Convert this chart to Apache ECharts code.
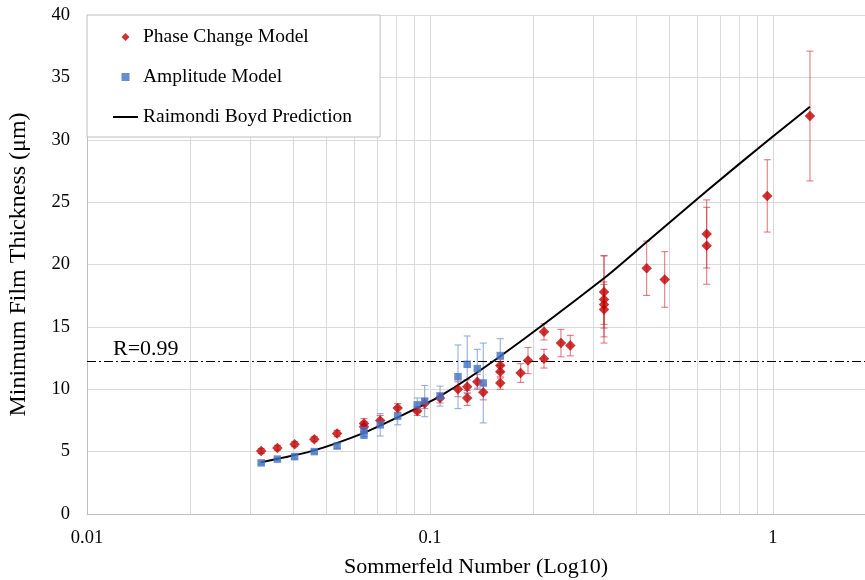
<!DOCTYPE html>
<html><head><meta charset="utf-8">
<script src="https://cdn.jsdelivr.net/npm/echarts@6/dist/echarts.min.js"></script>
<style>html,body{margin:0;padding:0;background:#fff}#c{width:865px;height:580px}</style>
</head><body><div id="c"></div>
<script>
// Phase Change Model: Sommerfeld number, film thickness (µm), error
const phaseX = [0.0322,0.0359,0.0403,0.046,0.0536,0.0642,0.0642,0.0716,0.0805,0.0918,0.0965,0.107,0.1207,0.1284,0.1284,0.1374,0.143,0.1603,0.1603,0.1603,0.1838,0.1931,0.215,0.215,0.2409,0.2565,0.3216,0.3216,0.3216,0.3216,0.4283,0.4834,0.6408,0.6408,0.9625,1.282];
const phaseY = [5.05,5.3,5.6,6.0,6.45,7.25,7.0,7.5,8.5,8.25,8.85,9.3,10.0,10.2,9.3,10.6,9.75,11.9,11.4,10.5,11.3,12.3,14.6,12.45,13.7,13.5,17.8,17.2,16.8,16.4,19.7,18.8,22.45,21.5,25.5,31.9];
const phaseErr = [0.2,0.2,0.2,0.2,0.25,0.4,0.4,0.4,0.35,0.35,0.4,0.4,0.6,0.55,0.6,0.6,0.6,0.5,0.5,0.5,0.75,1.05,0.65,0.75,1.1,0.82,2.9,3.5,1.6,2.2,2.18,2.23,2.73,3.08,2.9,5.2];
// Amplitude Model
const ampX = [0.0322,0.0359,0.0403,0.046,0.0536,0.0642,0.0642,0.0716,0.0805,0.0918,0.0965,0.107,0.1207,0.1284,0.1374,0.143,0.1603];
const ampY = [4.1,4.4,4.6,5.0,5.45,6.7,6.35,7.15,7.85,8.75,9.05,9.45,11.0,12.0,11.65,10.5,12.7];
const ampErr = [0.1,0.1,0.2,0.15,0.2,0.5,0.3,0.9,0.7,0.55,1.25,0.8,2.55,2.27,1.55,3.2,1.35];
// Raimondi Boyd Prediction
const rbX = [0.0322,0.046,0.0642,0.0805,0.107,0.1603,0.3216,0.4283,0.6408,0.9625,1.282];
const rbY = [4.15,5.1,6.5,7.75,9.45,12.65,18.9,21.8,25.9,29.9,32.65];
// reference line
const rValue = 12.25;
const rLabel = 'R=0.99';
// axis ranges / ticks
const xRange = {min:0.01, max:1.855};
const minorTicks = [0.02,0.03,0.04,0.05,0.06,0.07,0.08,0.09,0.2,0.3,0.4,0.5,0.6,0.7,0.8,0.9];
const yTicks = {min:0, max:40, interval:5};

const FONT = 'Liberation Serif';
const zip = (xs, ys, es) => xs.map((x,i)=> es ? [x, ys[i], es[i]] : [x, ys[i]]);

function errRender(color){
  return function(params, api){
    const x = api.value(0), y = api.value(1), e = api.value(2);
    const t = api.coord([x, y+e]), b = api.coord([x, y-e]);
    const w = 3.5;
    const st = {stroke: color, lineWidth: 1.1};
    return {type:'group', children:[
      {type:'line', shape:{x1:t[0],y1:t[1],x2:b[0],y2:b[1]}, style:st},
      {type:'line', shape:{x1:t[0]-w,y1:t[1],x2:t[0]+w,y2:t[1]}, style:st},
      {type:'line', shape:{x1:b[0]-w,y1:b[1],x2:b[0]+w,y2:b[1]}, style:st}
    ]};
  };
}

const chart = echarts.init(document.getElementById('c'), null, {renderer:'canvas'});
chart.setOption({
  animation:false,
  backgroundColor:'#fff',
  textStyle:{fontFamily:FONT},
  grid:{left:87, right:0, top:15, bottom:66, containLabel:false, outerBoundsMode:'none'},
  legend:{
    orient:'vertical', left:87, top:15, selectedMode:false, z:10,
    backgroundColor:'#fff', borderColor:'#bfbfbf', borderWidth:1,
    padding:[11,28,9,26], itemGap:18, itemWidth:25, itemHeight:8,
    symbolKeepAspect:true,
    textStyle:{fontFamily:FONT, fontSize:19.5, color:'#000', lineHeight:22},
    data:[
      {name:'Phase Change Model', icon:'path://M5,0L10,5L5,10L0,5Z'},
      {name:'Amplitude Model', icon:'path://M0,0L10,0L10,10L0,10Z'},
      {name:'Raimondi Boyd Prediction', icon:'path://M0,0L100,0L100,8L0,8Z'}
    ]
  },
  xAxis:{
    type:'log', logBase:10, min:xRange.min, max:xRange.max,
    name:'Sommerfeld Number (Log10)', nameLocation:'middle', nameGap:42,
    nameTextStyle:{fontFamily:FONT, fontSize:22, color:'#000'},
    axisLine:{show:true, lineStyle:{color:'#bfbfbf', width:1}},
    axisTick:{show:false},
    axisLabel:{fontFamily:FONT, fontSize:18.5, color:'#000', margin:15,
      formatter:function(v){ const l=Math.log10(v); return Math.abs(l-Math.round(l))<1e-6 ? String(+v.toPrecision(3)) : ''; }},
    splitLine:{show:true, lineStyle:{color:'#d9d9d9', width:1}}
  },
  yAxis:{
    type:'value', min:yTicks.min, max:yTicks.max, interval:yTicks.interval,
    name:'Minimum Film Thickness (μm)', nameLocation:'middle', nameGap:56,
    nameTextStyle:{fontFamily:FONT, fontSize:24, color:'#000'},
    axisLine:{show:true, lineStyle:{color:'#bfbfbf', width:1}},
    axisTick:{show:false},
    axisLabel:{fontFamily:FONT, fontSize:18.5, color:'#000', margin:17},
    splitLine:{show:true, lineStyle:{color:'#d9d9d9', width:1}}
  },
  series:[
    {
      name:'minor', type:'line', data:[], silent:true, z:0,
      markLine:{silent:true, symbol:'none', animation:false, z:0,
        label:{show:false},
        lineStyle:{color:'#d9d9d9', width:1, type:'solid'},
        data: minorTicks.map(v=>({xAxis:v}))}
    },
    {
      name:'phaseErr', type:'custom', renderItem:errRender('rgba(200,40,50,0.6)'),
      data: zip(phaseX, phaseY, phaseErr), encode:{x:0, y:1}, z:2, silent:true
    },
    {
      name:'ampErr', type:'custom', renderItem:errRender('rgba(120,155,215,0.8)'),
      data: zip(ampX, ampY, ampErr), encode:{x:0, y:1}, z:2, silent:true
    },
    {
      name:'Raimondi Boyd Prediction', type:'line', data: zip(rbX, rbY),
      smooth:0.25, symbol:'none', showSymbol:false, z:3,
      lineStyle:{color:'#000', width:2}, itemStyle:{color:'#000'},
      markLine:{silent:true, symbol:'none', animation:false, z:3,
        lineStyle:{color:'#000', width:1.2, type:[9,3,2,3]},
        label:{show:true, position:'insideStartTop', distance:[26,1], formatter:rLabel,
          fontFamily:FONT, fontSize:22, color:'#000'},
        data:[{yAxis:rValue}]}
    },
    {
      name:'Phase Change Model', type:'scatter', data: zip(phaseX, phaseY),
      symbol:'diamond', symbolSize:10.5, z:4,
      itemStyle:{color:'#c00000'}
    },
    {
      name:'Amplitude Model', type:'scatter', data: zip(ampX, ampY),
      symbol:'rect', symbolSize:7.5, z:5,
      itemStyle:{color:'#4472c4'}
    }
  ]
});
</script>
</body></html>
